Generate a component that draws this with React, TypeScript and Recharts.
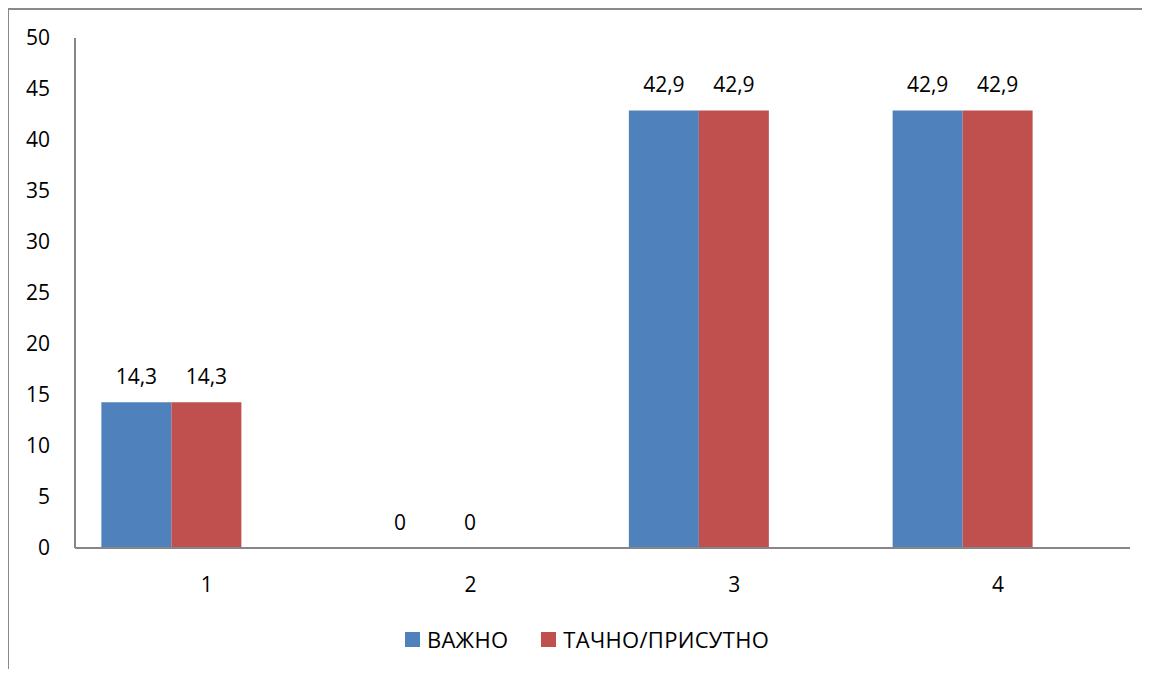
import React from 'react';
import { BarChart, Bar, XAxis, YAxis, Legend, LabelList } from 'recharts';

const categories = ['1', '2', '3', '4'];
const vaznoValues = [14.3, 0, 42.9, 42.9];
const tacnoValues = [14.3, 0, 42.9, 42.9];
const hiddenValues: (number | null)[] = [null, null, null, null];
const yTicks = [0, 5, 10, 15, 20, 25, 30, 35, 40, 45, 50];
const seriesNames = ['ВАЖНО', 'ТАЧНО/ПРИСУТНО'];
const seriesColors = ['#4F81BD', '#C0504D'];

const data = categories.map((c, i) => ({
  name: c,
  vazno: vaznoValues[i],
  tacno: tacnoValues[i],
  hidden: hiddenValues[i],
}));

const FONT = '"Open Sans", "Noto Sans", sans-serif';
const fmt = (v: any) => (v === null || v === undefined ? '' : String(v).replace('.', ','));

const LegendContent = () => (
  <div
    style={{
      display: 'flex',
      justifyContent: 'center',
      alignItems: 'center',
      paddingLeft: 16,
      fontFamily: FONT,
      fontSize: 22,
      letterSpacing: 0.3,
      color: '#000',
    }}
  >
    {seriesNames.map((n, i) => (
      <div key={n} style={{ display: 'flex', alignItems: 'center', marginRight: i === 0 ? 33 : 0 }}>
        <div style={{ width: 15, height: 15, background: seriesColors[i], marginRight: 7 }} />
        <span>{n}</span>
      </div>
    ))}
  </div>
);

export default function App() {
  return (
    <div
      style={{
        width: 1142,
        height: 661,
        position: 'relative',
        fontFamily: FONT,
        borderLeft: '2px solid #898989',
        borderTop: '2px solid #898989',
        boxSizing: 'border-box',
        marginLeft: -1,
      }}
    >
      <div style={{ position: 'absolute', left: -1, top: -2 }}>
        <BarChart
          width={1142}
          height={661}
          data={data}
          margin={{ top: 30, right: 20, left: 0, bottom: 91 }}
          barCategoryGap="10%"
          barGap={0}
        >
          <XAxis
            dataKey="name"
            height={30}
            axisLine={{ stroke: '#868686', strokeWidth: 2 }}
            tickLine={false}
            tickSize={0}
            tickMargin={29}
            tick={{ fill: '#000', fontSize: 21, fontFamily: FONT }}
          />
          <YAxis
            width={67}
            domain={[0, 50]}
            ticks={yTicks}
            interval={0}
            axisLine={{ stroke: '#868686', strokeWidth: 2 }}
            tickLine={false}
            tickSize={0}
            tickMargin={25}
            tick={{ fill: '#000', fontSize: 21, fontFamily: FONT }}
          />
          <Legend
            layout="horizontal"
            verticalAlign="middle"
            align="center"
            wrapperStyle={{ top: 616, left: 0, width: 1142 }}
            content={<LegendContent />}
          />
          <Bar dataKey="vazno" name={seriesNames[0]} fill={seriesColors[0]} minPointSize={0.01} isAnimationActive={false}>
            <LabelList
              dataKey="vazno"
              position="top"
              offset={18}
              formatter={fmt}
              style={{ fill: '#000', fontSize: 21, fontFamily: FONT }}
            />
          </Bar>
          <Bar dataKey="tacno" name={seriesNames[1]} fill={seriesColors[1]} minPointSize={0.01} isAnimationActive={false}>
            <LabelList
              dataKey="tacno"
              position="top"
              offset={18}
              formatter={fmt}
              style={{ fill: '#000', fontSize: 21, fontFamily: FONT }}
            />
          </Bar>
          <Bar dataKey="hidden" fill="#9BBB59" legendType="none" isAnimationActive={false} />
        </BarChart>
      </div>
    </div>
  );
}
